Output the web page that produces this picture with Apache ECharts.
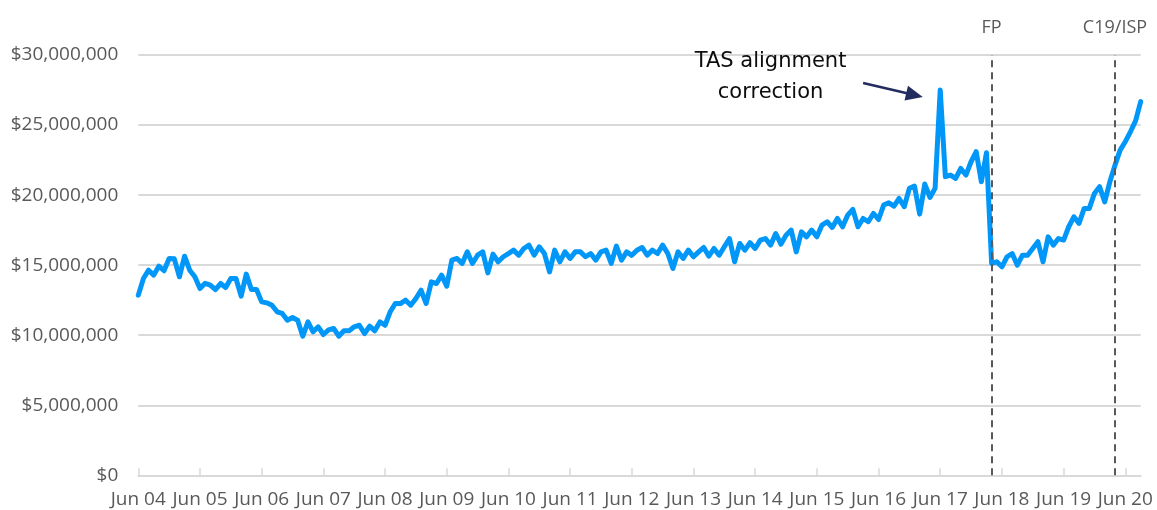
<!DOCTYPE html>
<html>
<head>
<meta charset="utf-8">
<script src="https://cdn.jsdelivr.net/npm/echarts@6/dist/echarts.min.js"></script>
<style>
  html, body { margin: 0; padding: 0; background: #ffffff; }
  #chart { width: 1157px; height: 510px; }
</style>
</head>
<body>
<div id="chart"></div>
<script>
// Monthly spend in $ millions, one value per month from Jun 2004 to Sep 2020
const spendMillions = [
  12.86, 14.05, 14.64, 14.29, 14.93, 14.60, 15.48, 15.45, 14.17, 15.64, 14.64, 14.17,
  13.33, 13.70, 13.57, 13.26, 13.69, 13.40, 14.05, 14.05, 12.79, 14.36, 13.26, 13.26,
  12.38, 12.31, 12.14, 11.67, 11.55, 11.07, 11.26, 11.07,  9.93, 10.95, 10.24, 10.60,
  10.05, 10.38, 10.48,  9.93, 10.31, 10.31, 10.60, 10.71, 10.12, 10.64, 10.31, 10.95,
  10.71, 11.67, 12.26, 12.26, 12.50, 12.14, 12.62, 13.21, 12.26, 13.81, 13.69, 14.29,
  13.50, 15.36, 15.48, 15.12, 15.95, 15.12, 15.71, 15.95, 14.45, 15.79, 15.24, 15.60,
  15.83, 16.07, 15.71, 16.19, 16.43, 15.71, 16.31, 15.83, 14.52, 16.07, 15.24, 15.95,
  15.48, 15.95, 15.95, 15.60, 15.83, 15.36, 15.95, 16.07, 15.12, 16.36, 15.36, 15.95,
  15.70, 16.07, 16.26, 15.71, 16.07, 15.83, 16.43, 15.83, 14.76, 15.95, 15.48, 16.07,
  15.60, 15.95, 16.26, 15.64, 16.19, 15.71, 16.31, 16.90, 15.24, 16.55, 16.07, 16.60,
  16.19, 16.79, 16.90, 16.43, 17.26, 16.50, 17.14, 17.50, 15.95, 17.38, 17.02, 17.50,
  17.02, 17.86, 18.10, 17.69, 18.33, 17.74, 18.57, 18.98, 17.74, 18.33, 18.10, 18.69,
  18.26, 19.29, 19.45, 19.21, 19.76, 19.17, 20.48, 20.64, 18.64, 20.79, 19.83, 20.48,
  27.50, 21.31, 21.43, 21.19, 21.90, 21.43, 22.38, 23.10, 20.95, 23.02, 15.12, 15.24,
  14.88, 15.60, 15.83, 15.00, 15.71, 15.71, 16.19, 16.67, 15.24, 17.02, 16.43, 16.90,
  16.79, 17.74, 18.45, 17.98, 19.05, 19.05, 20.12, 20.60, 19.52, 20.95, 22.14, 23.21,
  23.81, 24.52, 25.30, 26.67
];

// Month categories
const monthNames = ['Jan', 'Feb', 'Mar', 'Apr', 'May', 'Jun', 'Jul', 'Aug', 'Sep', 'Oct', 'Nov', 'Dec'];
const firstYear = 2004;
const firstMonth = 5; // June
const months = spendMillions.map((_, i) => {
  const t = firstMonth + i;
  const yr = (firstYear + Math.floor(t / 12)) % 100;
  return monthNames[t % 12] + ' ' + String(yr).padStart(2, '0');
});

// Policy events drawn as dashed verticals
const eventMonths = ['Apr 18', 'Apr 20'];
const eventLabels = ['FP', 'C19/ISP'];

// Callout text and arrow (anchored in data space)
const noteText = 'TAS alignment\ncorrection';
const noteAt = ['Sep 14', 28.45];
const arrowFrom = ['Mar 16', 28.0];
const arrowTo = ['Jan 17', 27.14];

const yMax = 30, yStep = 5;

const axisFont = "'Open Sans', 'Noto Sans', sans-serif";
const grey = '#595959';
const gridGrey = '#d9d9d9';

const isJune = (idx) => idx % 12 === 0;

const chart = echarts.init(document.getElementById('chart'), null, { renderer: 'canvas' });

chart.setOption({
  animation: false,
  backgroundColor: '#ffffff',
  grid: { left: 138.3, right: 16.3, top: 55, bottom: 34.7, containLabel: false },
  xAxis: {
    type: 'category',
    data: months,
    boundaryGap: false,
    axisLine: { show: true, lineStyle: { color: gridGrey, width: 2 } },
    axisTick: { show: true, inside: true, length: 7, interval: isJune, lineStyle: { color: gridGrey, width: 1.5 } },
    axisLabel: {
      interval: isJune,
      color: grey,
      fontFamily: axisFont,
      fontSize: 19,
      margin: 15
    },
    splitLine: { show: false }
  },
  yAxis: {
    type: 'value',
    min: 0,
    max: yMax,
    interval: yStep,
    axisLine: { show: false },
    axisTick: { show: false },
    axisLabel: {
      color: grey,
      fontFamily: axisFont,
      fontSize: 19,
      margin: 20,
      formatter: (v) => '$' + Math.round(v * 1e6).toLocaleString('en-US')
    },
    splitLine: { lineStyle: { color: gridGrey, width: 2 } }
  },
  series: [{
    type: 'line',
    data: spendMillions,
    showSymbol: false,
    smooth: false,
    lineStyle: { color: '#0097f8', width: 5, cap: 'round', join: 'round' },
    itemStyle: { color: '#0097f8' },
    emphasis: { disabled: true },
    z: 3,
    markLine: {
      silent: true,
      animation: false,
      symbol: ['none', 'none'],
      data: [
        ...eventMonths.map((m, i) => ({
          xAxis: m,
          lineStyle: { color: grey, width: 2, type: [7, 5] },
          label: {
            show: true,
            position: 'end',
            distance: 18,
            formatter: eventLabels[i],
            color: grey,
            fontFamily: axisFont,
            fontSize: 18
          }
        })),
        [
          { coord: arrowFrom, symbol: 'none' },
          {
            coord: arrowTo,
            symbol: 'triangle',
            symbolSize: [15, 17],
            lineStyle: { color: '#222c5e', width: 2.5, type: 'solid' },
            label: { show: false }
          }
        ]
      ]
    },
    markPoint: {
      silent: true,
      animation: false,
      symbol: 'circle',
      symbolSize: 1,
      itemStyle: { color: 'rgba(0,0,0,0)' },
      data: [{
        coord: noteAt,
        label: {
          show: true,
          position: 'inside',
          formatter: noteText,
          color: '#0d0d0d',
          fontFamily: "'DejaVu Sans', Verdana, sans-serif",
          fontSize: 21,
          lineHeight: 31,
          align: 'center',
          verticalAlign: 'middle'
        }
      }]
    }
  }]
});
</script>
</body>
</html>
